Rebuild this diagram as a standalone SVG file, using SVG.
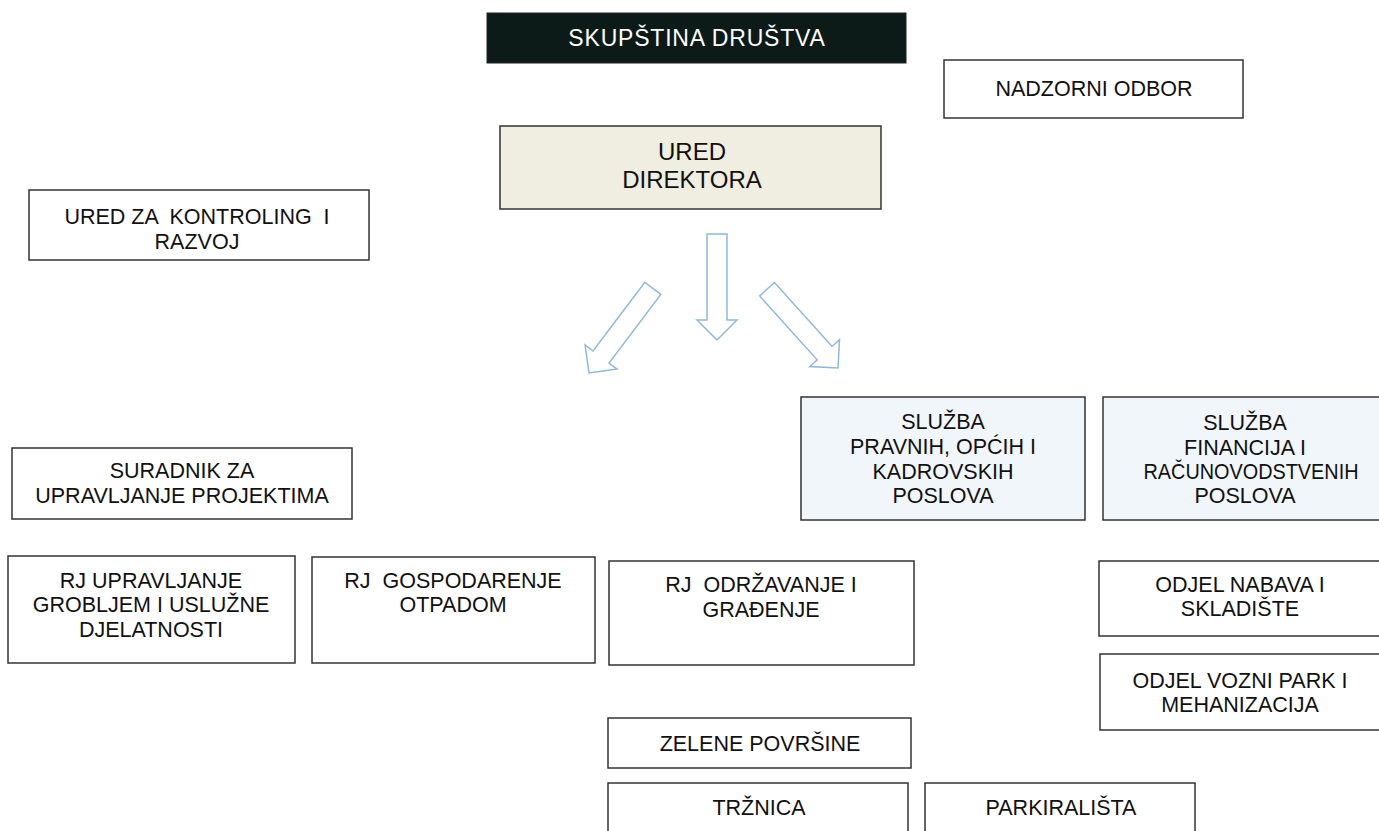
<svg xmlns="http://www.w3.org/2000/svg" width="1379" height="831" viewBox="0 0 1379 831">
<style>
.box{fill:#ffffff;stroke:#333333;stroke-width:1.5}
.t{font-family:"Liberation Sans",Arial,sans-serif;font-size:21.5px;fill:#111111;text-anchor:middle;white-space:pre}
.arr{fill:#ffffff;stroke:#8fb8dc;stroke-width:1.5;stroke-linejoin:miter}
</style>
<defs>
<polygon id="arrow" points="-10,-106 10,-106 10,-20 20,-20 0,0 -20,-20 -10,-20"/>
</defs>
<rect width="1379" height="831" fill="#ffffff"/>
<g id="skupstina">
<rect x="487" y="13" width="419" height="50" fill="#0d1b18" stroke="#222"/>
<text class="t" x="697" y="46" style="fill:#ffffff;font-size:23px;letter-spacing:0.8px">SKUPŠTINA DRUŠTVA</text>
</g>
<g id="nadzorni">
<rect class="box" x="944" y="60" width="299" height="58"/>
<text class="t" x="1094" y="96">NADZORNI ODBOR</text>
</g>
<g id="ured-direktora">
<rect class="box" x="500" y="126" width="381" height="83" style="fill:#efeee0"/>
<text class="t" x="692" y="160" style="font-size:24px">URED</text>
<text class="t" x="692" y="188" style="font-size:24px">DIREKTORA</text>
</g>
<g id="ured-kontroling">
<rect class="box" x="29" y="190" width="340" height="70"/>
<text class="t" x="197" y="224">URED ZA  KONTROLING  I</text>
<text class="t" x="197" y="249">RAZVOJ</text>
</g>
<g id="connectors">
<use href="#arrow" class="arr" transform="translate(717,340)"/>
<use href="#arrow" class="arr" transform="translate(589,373) rotate(37)"/>
<use href="#arrow" class="arr" transform="translate(838,368) rotate(-42)"/>
</g>
<g id="sluzba-pravnih">
<rect class="box" x="801" y="397" width="284" height="123" style="fill:#f1f6fa"/>
<text class="t" x="943" y="429">SLUŽBA</text>
<text class="t" x="943" y="454">PRAVNIH, OPĆIH I</text>
<text class="t" x="943" y="479">KADROVSKIH</text>
<text class="t" x="943" y="503">POSLOVA</text>
</g>
<g id="sluzba-financija">
<rect class="box" x="1103" y="397" width="285" height="123" style="fill:#f1f6fa"/>
<text class="t" x="1245" y="430">SLUŽBA</text>
<text class="t" x="1245" y="455">FINANCIJA I</text>
<text class="t" x="1251" y="479" textLength="215" lengthAdjust="spacingAndGlyphs">RAČUNOVODSTVENIH</text>
<text class="t" x="1245" y="503">POSLOVA</text>
</g>
<g id="suradnik">
<rect class="box" x="12" y="448" width="340" height="71"/>
<text class="t" x="182" y="478">SURADNIK ZA</text>
<text class="t" x="182" y="503">UPRAVLJANJE PROJEKTIMA</text>
</g>
<g id="rj-groblje">
<rect class="box" x="8" y="556" width="287" height="107"/>
<text class="t" x="151" y="588">RJ UPRAVLJANJE</text>
<text class="t" x="151" y="612">GROBLJEM I USLUŽNE</text>
<text class="t" x="151" y="637">DJELATNOSTI</text>
</g>
<g id="rj-otpad">
<rect class="box" x="312" y="557" width="283" height="106"/>
<text class="t" x="453" y="588">RJ  GOSPODARENJE</text>
<text class="t" x="453" y="612">OTPADOM</text>
</g>
<g id="rj-odrzavanje">
<rect class="box" x="609" y="561" width="305" height="104"/>
<text class="t" x="761" y="592">RJ  ODRŽAVANJE I</text>
<text class="t" x="761" y="617">GRAĐENJE</text>
</g>
<g id="odjel-nabava">
<rect class="box" x="1099" y="561" width="290" height="75"/>
<text class="t" x="1240" y="592">ODJEL NABAVA I</text>
<text class="t" x="1240" y="616">SKLADIŠTE</text>
</g>
<g id="odjel-vozni">
<rect class="box" x="1100" y="654" width="290" height="76"/>
<text class="t" x="1240" y="688">ODJEL VOZNI PARK I</text>
<text class="t" x="1240" y="712">MEHANIZACIJA</text>
</g>
<g id="zelene">
<rect class="box" x="608" y="718" width="303" height="50"/>
<text class="t" x="760" y="751">ZELENE POVRŠINE</text>
</g>
<g id="trznica">
<rect class="box" x="608" y="783" width="300" height="60"/>
<text class="t" x="759" y="815">TRŽNICA</text>
</g>
<g id="parkiralista">
<rect class="box" x="925" y="783" width="270" height="60"/>
<text class="t" x="1061" y="815">PARKIRALIŠTA</text>
</g>
</svg>
